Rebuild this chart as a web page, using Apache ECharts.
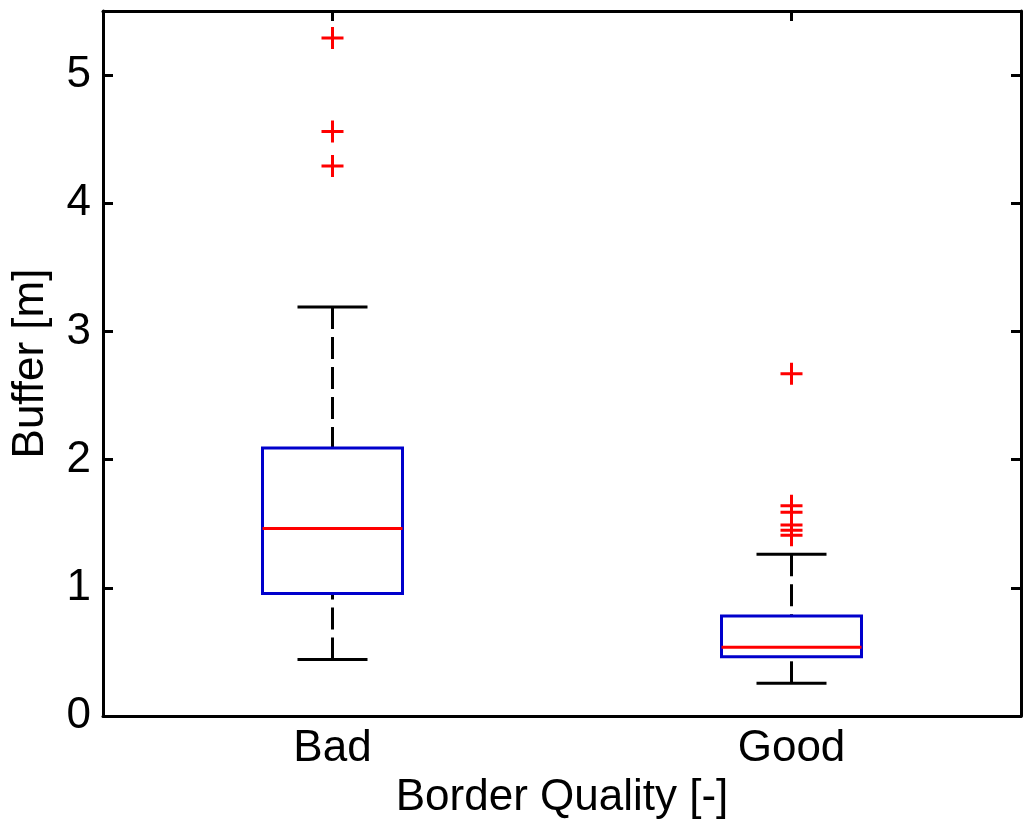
<!DOCTYPE html>
<html>
<head>
<meta charset="utf-8">
<script src="https://cdn.jsdelivr.net/npm/echarts@6/dist/echarts.min.js"></script>
<style>
html,body{margin:0;padding:0;background:#fff;}
#chart{width:1025px;height:825px;}
</style>
</head>
<body>
<div id="chart"></div>
<script>
// Categories
const categories = ['Bad', 'Good'];
// Box statistics per category: [lowerWhisker, q1, median, q3, upperWhisker]
const lowerWhisker = [0.44, 0.255];
const q1 = [0.955, 0.462];
const median = [1.462, 0.537];
const q3 = [2.09, 0.781];
const upperWhisker = [3.19, 1.262];
// Outliers per category
const outliersBad = [5.29, 4.56, 4.29];
const outliersGood = [2.67, 1.64, 1.59, 1.49, 1.45, 1.41];
// Y-axis ticks
const yTicks = [0, 1, 2, 3, 4, 5];
const yMin = 0, yMax = 5.5, yInterval = 1;

const boxData = categories.map((c, i) => [i, lowerWhisker[i], q1[i], median[i], q3[i], upperWhisker[i]]);
const outlierData = [];
outliersBad.forEach(v => outlierData.push([0, v]));
outliersGood.forEach(v => outlierData.push([1, v]));

const FONT = 'Liberation Sans';
const FS = 44;

const chart = echarts.init(document.getElementById('chart'), null, {renderer: 'canvas'});

function renderBox(params, api) {
  const idx = api.value(0);
  const pLow = api.coord([idx, api.value(1)]);
  const pQ1 = api.coord([idx, api.value(2)]);
  const pMed = api.coord([idx, api.value(3)]);
  const pQ3 = api.coord([idx, api.value(4)]);
  const pHigh = api.coord([idx, api.value(5)]);
  const band = api.size([1, 0])[0];
  const bw = band * 0.305;
  const cw = bw / 2;
  const x = pQ1[0];
  const blk = {stroke: '#000', lineWidth: 3, lineDash: [22, 8]};
  const solid = {stroke: '#000', lineWidth: 3};
  return {
    type: 'group',
    children: [
      {type: 'line', shape: {x1: x, y1: pHigh[1], x2: x, y2: pQ3[1]}, style: blk},
      {type: 'line', shape: {x1: x, y1: pLow[1], x2: x, y2: pQ1[1]}, style: blk},
      {type: 'line', shape: {x1: x - cw / 2, y1: pHigh[1], x2: x + cw / 2, y2: pHigh[1]}, style: solid},
      {type: 'line', shape: {x1: x - cw / 2, y1: pLow[1], x2: x + cw / 2, y2: pLow[1]}, style: solid},
      {type: 'rect', shape: {x: x - bw / 2, y: pQ3[1], width: bw, height: pQ1[1] - pQ3[1]},
        style: {fill: 'none', stroke: '#0000cc', lineWidth: 3}},
      {type: 'line', shape: {x1: x - bw / 2, y1: pMed[1], x2: x + bw / 2, y2: pMed[1]},
        style: {stroke: '#ff0000', lineWidth: 3}}
    ]
  };
}

const tickStyle = {color: '#000', width: 3};

const option = {
  backgroundColor: '#fff',
  animation: false,
  grid: {left: 103, right: 4, top: 11, bottom: 109, containLabel: false},
  xAxis: [
    {
      type: 'category', data: categories, position: 'bottom',
      name: 'Border Quality [-]', nameLocation: 'middle', nameGap: 60,
      nameTextStyle: {fontFamily: FONT, fontSize: FS, color: '#000'},
      axisLine: {onZero: false, lineStyle: {color: '#000', width: 3}},
      axisTick: {inside: true, length: 10, alignWithLabel: true, lineStyle: tickStyle},
      axisLabel: {fontFamily: FONT, fontSize: FS, color: '#000', margin: 11},
      splitLine: {show: false}
    },
    {
      type: 'category', data: categories, position: 'top',
      axisLine: {show: true, onZero: false, lineStyle: {color: '#000', width: 3}},
      axisTick: {show: true, inside: true, length: 10, alignWithLabel: true, lineStyle: tickStyle},
      axisLabel: {show: false}, splitLine: {show: false}
    }
  ],
  yAxis: [
    {
      type: 'value', min: yMin, max: yMax, interval: yInterval, position: 'left',
      name: 'Buffer [m]', nameLocation: 'middle', nameGap: 50,
      nameTextStyle: {fontFamily: FONT, fontSize: FS, color: '#000'},
      axisLine: {show: true, onZero: false, lineStyle: {color: '#000', width: 3}},
      axisTick: {show: true, inside: true, length: 10, customValues: yTicks, lineStyle: tickStyle},
      axisLabel: {fontFamily: FONT, fontSize: FS, color: '#000', margin: 12, customValues: yTicks},
      splitLine: {show: false}
    },
    {
      type: 'value', min: yMin, max: yMax, interval: yInterval, position: 'right',
      axisLine: {show: true, onZero: false, lineStyle: {color: '#000', width: 3}},
      axisTick: {show: true, inside: true, length: 10, customValues: yTicks, lineStyle: tickStyle},
      axisLabel: {show: false}, splitLine: {show: false}
    }
  ],
  series: [
    {
      type: 'custom', xAxisIndex: 0, yAxisIndex: 0,
      renderItem: renderBox, data: boxData,
      encode: {x: 0, y: [1, 2, 3, 4, 5]}, z: 2
    },
    {
      type: 'scatter', xAxisIndex: 0, yAxisIndex: 0, data: outlierData,
      symbol: 'path://M0,-10 L0,10 M-10,0 L10,0', symbolSize: 22,
      itemStyle: {color: 'none', borderColor: '#ff0000', borderWidth: 3, opacity: 1},
      z: 3
    }
  ]
};
chart.setOption(option);
</script>
</body>
</html>
